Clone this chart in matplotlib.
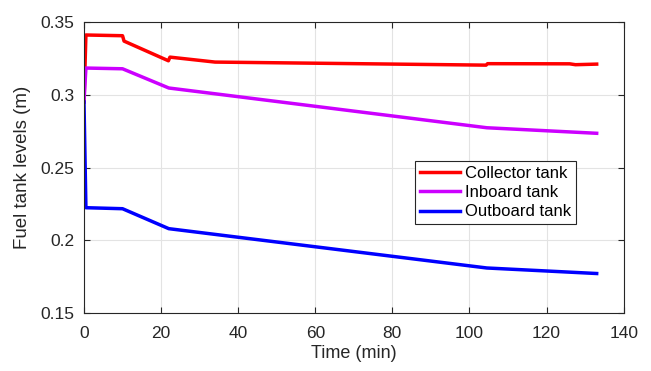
import matplotlib
matplotlib.use("Agg")
import matplotlib.pyplot as plt

plt.rcParams['font.family'] = ['Liberation Sans', 'DejaVu Sans']

# Data (time in min, level in m)
t_collector = [0, 0.5, 10, 10.4, 21.9, 22.3, 34, 104.3, 104.7, 126, 127.5, 133]
y_collector = [0.295, 0.341, 0.3405, 0.3368, 0.3233, 0.3258, 0.3224, 0.3203, 0.3213, 0.3212, 0.3206, 0.3210]

t_inboard = [0, 0.5, 10, 22, 104.5, 133]
y_inboard = [0.295, 0.3183, 0.3178, 0.3046, 0.2773, 0.2735]

t_outboard = [0, 0.5, 10, 22, 104.5, 133]
y_outboard = [0.295, 0.2224, 0.2217, 0.2080, 0.1810, 0.1772]

labels = ["Collector tank", "Inboard tank", "Outboard tank"]
colors = ["#ff0000", "#cc00ff", "#0000ff"]

fig = plt.figure(figsize=(6.51, 3.71), dpi=100)
ax = fig.add_axes([0.129, 0.156, 0.829, 0.785])

ax.plot(t_collector, y_collector, color=colors[0], lw=2.5, label=labels[0])
ax.plot(t_inboard, y_inboard, color=colors[1], lw=2.5, label=labels[1])
ax.plot(t_outboard, y_outboard, color=colors[2], lw=2.5, label=labels[2])

ax.set_xlim(0, 140)
ax.set_ylim(0.15, 0.35)
ax.set_xticks(range(0, 141, 20))
ax.set_yticks([0.15, 0.2, 0.25, 0.3, 0.35])
ax.set_yticklabels(["0.15", "0.2", "0.25", "0.3", "0.35"])
ax.grid(True, color="#e3e3e3", lw=0.8)
ax.set_axisbelow(True)
ax.tick_params(direction="in", top=True, right=True, labelsize=12.5, colors="#262626", length=4)
ax.tick_params(axis="y", pad=7)
ax.tick_params(axis="x", pad=9)
for s in ax.spines.values():
    s.set_color("#262626")
    s.set_linewidth(0.8)

ax.set_xlabel("Time (min)", fontsize=13, color="#262626", labelpad=3)
ax.set_ylabel("Fuel tank levels (m)", fontsize=13.5, color="#262626", labelpad=7)

leg = ax.legend(loc="upper left", bbox_to_anchor=(0.613, 0.522), fontsize=12,
                frameon=True, fancybox=False, edgecolor="#262626", framealpha=1,
                handlelength=2.4, borderpad=0.3, labelspacing=0.25, handletextpad=0.3,
                borderaxespad=0)
leg.get_frame().set_linewidth(0.8)

fig.savefig("out.png", dpi=100)
